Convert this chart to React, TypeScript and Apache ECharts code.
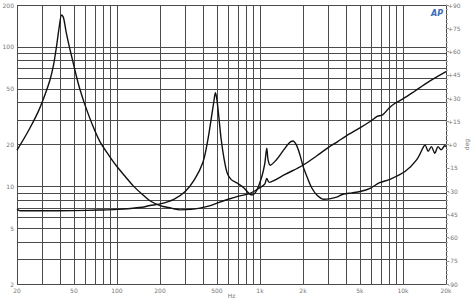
import React, { useEffect, useRef } from "react";
import * as echarts from "echarts";

// Gridline / tick values
const freqGrid = [20, 30, 40, 50, 60, 70, 80, 90, 100, 200, 300, 400, 500, 600, 700, 800, 900, 1000, 2000, 3000, 4000, 5000, 6000, 7000, 8000, 9000, 10000, 20000];
const freqLabels = [20, 50, 100, 200, 500, 1000, 2000, 5000, 10000, 20000];
const ohmGrid = [2, 3, 4, 5, 6, 7, 8, 9, 10, 20, 30, 40, 50, 60, 70, 80, 90, 100, 200];
const ohmLabels = [2, 5, 10, 20, 50, 100, 200];

// Woofer-like impedance curve
const wooferFreq = [20, 24, 28, 31, 34, 36, 38, 39.5, 41, 42.3, 44, 46, 49, 52, 55, 60, 68, 76, 89, 100, 115, 130, 150, 170, 200, 240, 276, 330, 380, 450, 500, 600, 700, 846, 1000, 1080, 1116, 1160, 1250, 1500, 2000, 2500, 3000, 3500, 4000, 5000, 6000, 6600, 7200, 8000, 8800, 10000, 12000, 15000, 20000];
const wooferOhm = [18.2, 25, 34, 44, 58, 74, 105, 140, 170, 162, 130, 105, 80, 62, 50, 38, 27, 21, 16.4, 13.9, 11.7, 10.1, 8.8, 7.9, 7.3, 7.0, 6.8, 6.85, 7.0, 7.3, 7.6, 8.1, 8.5, 8.9, 9.8, 10.4, 11.4, 10.7, 11.0, 12.2, 14.2, 16.6, 19, 21, 23, 26.3, 29.6, 31.8, 32.6, 36.5, 39.5, 42.5, 48, 56, 66.5];

// Driver with 500 Hz resonance
const driverFreq = [20, 21, 30, 50, 75, 100, 150, 170, 200, 250, 300, 350, 400, 430, 455, 475, 488, 500, 515, 535, 560, 590, 630, 700, 770, 830, 880, 950, 1030, 1080, 1116, 1140, 1180, 1300, 1450, 1600, 1700, 1800, 1900, 2000, 2150, 2300, 2500, 2800, 3440, 3800, 4400, 5020, 5890, 6870, 8100, 10340, 12450, 13940, 14300, 15000, 15800, 16700, 17600, 18500, 19600, 20000];
const driverOhm = [6.9, 6.7, 6.7, 6.72, 6.78, 6.85, 7.1, 7.3, 7.5, 8.1, 9.2, 11.3, 15, 21, 30, 40, 47, 42, 32, 22, 16, 12.5, 11.2, 10.5, 9.8, 9.0, 8.7, 9.4, 11.75, 14.5, 18.8, 15.5, 14.2, 15.5, 18, 20.5, 21.2, 19.8, 17, 14, 11.5, 9.8, 8.7, 8.1, 8.4, 8.8, 9.0, 9.2, 9.7, 10.65, 11.25, 12.8, 15.5, 19.3, 19.8, 17.9, 19.3, 17.3, 19.3, 18.3, 19.6, 19.3];

const GRID = "#4a4a4a";
const LABEL = "#777";

export default function App() {
  const ref = useRef<HTMLDivElement>(null);
  useEffect(() => {
    if (!ref.current) return;
    const chart = echarts.init(ref.current, null, { renderer: "svg" });
    const fmtF = (v: number) => (v >= 1000 ? v / 1000 + "k" : String(v));
    chart.setOption({
      animation: false,
      backgroundColor: "#fff",
      textStyle: { fontFamily: "DejaVu Sans" },
      grid: { left: 17, right: 29, top: 5, height: 279, containLabel: false, outerBoundsMode: "none" },
      xAxis: {
        type: "log",
        min: 20,
        max: 20000,
        name: "Hz",
        nameLocation: "middle",
        nameGap: 8,
        nameMoveOverlap: false,
        nameTextStyle: { fontSize: 6, color: LABEL },
        axisLine: { show: false },
        axisTick: { show: false, customValues: freqGrid },
        axisLabel: { customValues: freqLabels, formatter: fmtF, fontSize: 6, color: LABEL, margin: 3 },
        splitLine: { show: true, lineStyle: { color: GRID, width: 1 } },
      },
      yAxis: [
        {
          type: "log",
          min: 2,
          max: 200,
          position: "left",
          axisLine: { show: false },
          axisTick: { show: false, customValues: ohmGrid },
          axisLabel: { customValues: ohmLabels, fontSize: 6, color: LABEL, margin: 3 },
          splitLine: { show: true, lineStyle: { color: GRID, width: 1 } },
        },
        {
          type: "value",
          min: -90,
          max: 90,
          interval: 15,
          position: "right",
          name: "deg",
          nameLocation: "middle",
          nameGap: 17,
          nameRotate: 90,
          nameMoveOverlap: false,
          nameTextStyle: { fontSize: 6, color: LABEL },
          axisLine: { show: true, lineStyle: { color: GRID, width: 1 } },
          axisTick: { show: true, length: 3, lineStyle: { color: "#999" } },
          minorTick: { show: true, splitNumber: 5, length: 2, lineStyle: { color: "#aaa" } },
          axisLabel: {
            fontSize: 6,
            color: LABEL,
            margin: 2,
            formatter: (v: number) => (v >= 0 ? "+" + v : String(v)),
          },
          splitLine: { show: false },
        },
      ],
      graphic: [
        {
          type: "text",
          left: 431,
          top: 9,
          style: { text: "AP", fontSize: 8, fontStyle: "italic", fontWeight: "bold", fill: "#3d6db5", fontFamily: "DejaVu Sans" },
        },
      ],
      series: [
        {
          type: "line",
          yAxisIndex: 0,
          showSymbol: false,
          smooth: 0.3,
          data: wooferFreq.map((f, i) => [f, wooferOhm[i]]),
          lineStyle: { color: "#111", width: 1.4 },
        },
        {
          type: "line",
          yAxisIndex: 0,
          showSymbol: false,
          smooth: 0.3,
          data: driverFreq.map((f, i) => [f, driverOhm[i]]),
          lineStyle: { color: "#111", width: 1.4 },
        },
      ],
    });
    return () => chart.dispose();
  }, []);
  return <div ref={ref} style={{ width: 475, height: 302, position: "absolute", left: 0, top: 0 }} />;
}
